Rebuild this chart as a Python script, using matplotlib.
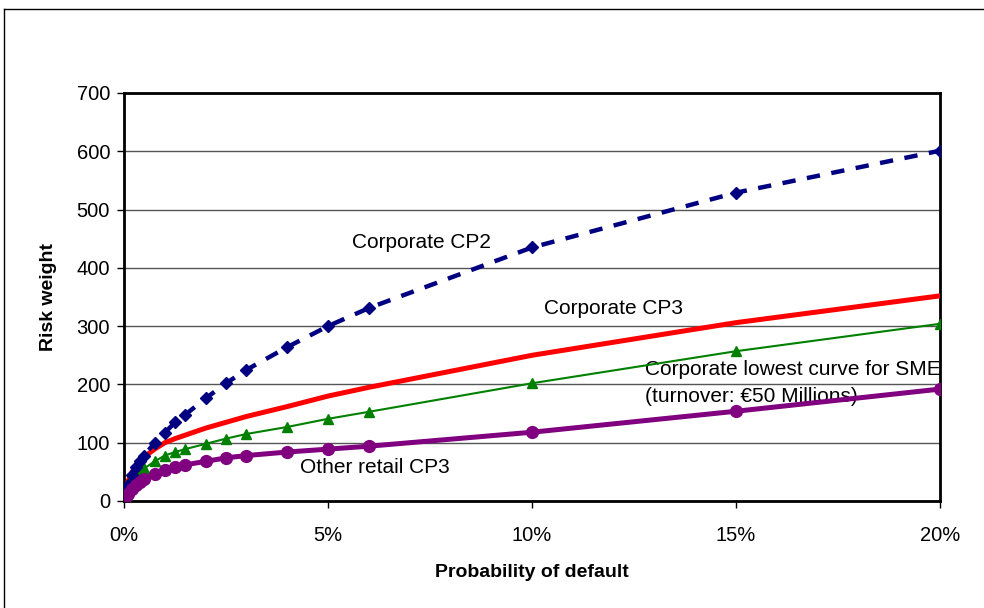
import matplotlib
matplotlib.use("Agg")
import matplotlib.pyplot as plt
from matplotlib.lines import Line2D

plt.rcParams['font.family'] = ['Liberation Sans', 'DejaVu Sans']

# Probability of default (fraction)
pd_grid = [0.0003, 0.0005, 0.001, 0.002, 0.003, 0.004, 0.005, 0.0075, 0.01, 0.0125,
           0.015, 0.02, 0.025, 0.03, 0.04, 0.05, 0.06, 0.10, 0.15, 0.20]

corporate_cp2 = [13, 18, 28, 45, 58, 68, 78, 100, 117, 135,
                 148, 176, 202, 225, 264, 300, 331, 435, 529, 601]
corporate_cp3 = [17, 23, 34, 50, 61, 69, 76, 89, 100, 107,
                 113, 125, 135, 145, 162, 180, 195, 250, 306, 352]
sme_lowest = [11, 15, 22, 34, 43, 50, 56, 68, 78, 84,
              89, 98, 107, 115, 127, 141, 153, 202, 257, 304]
other_retail_cp3 = [6, 8, 12, 20, 27, 32, 37, 46, 53, 58,
                    62, 68, 74, 78, 84, 89, 94, 118, 154, 192]

x_ticks = [0, 0.05, 0.10, 0.15, 0.20]
x_tick_labels = ['0%', '5%', '10%', '15%', '20%']
y_ticks = [0, 100, 200, 300, 400, 500, 600, 700]

fig = plt.figure(figsize=(9.84, 6.08), dpi=100)
ax = fig.add_axes([124/984, 1-501/608, (940-124)/984, (501-93)/608])

ax.plot(pd_grid, corporate_cp3, color='#FF0000', lw=3.6, zorder=3, solid_capstyle='round')
ax.plot(pd_grid, sme_lowest, color='#008000', lw=1.5, marker='^', ms=7.5, zorder=4)
ax.plot(pd_grid, corporate_cp2, color='#000080', lw=3.2, ls=(0, (3.0, 2.6)),
        marker='D', ms=6, zorder=5)
ax.plot(pd_grid, other_retail_cp3, color='#800080', lw=3.6, marker='o', ms=8.5, zorder=6)

ax.set_xlim(0, 0.20)
ax.set_ylim(0, 700)
ax.set_xticks(x_ticks)
ax.set_xticklabels(x_tick_labels)
ax.set_yticks(y_ticks)
ax.yaxis.grid(True, color='#555555', lw=1.0)
ax.set_axisbelow(True)
for s in ax.spines.values():
    s.set_linewidth(2)
    s.set_color('black')
ax.tick_params(axis='both', direction='out', length=5, width=1, labelsize=14.5, colors='black')
ax.tick_params(axis='x', pad=13)
ax.tick_params(axis='y', pad=5)

ax.set_xlabel('Probability of default', fontsize=14, fontweight='bold', labelpad=14)
ax.set_ylabel('Risk weight', fontsize=14, fontweight='bold', labelpad=14)

ax.text(0.0559, 444, 'Corporate CP2', fontsize=15, ha='left', va='center')
ax.text(0.1029, 331, 'Corporate CP3', fontsize=15, ha='left', va='center')
ax.text(0.1277, 226, 'Corporate lowest curve for SME', fontsize=15, ha='left', va='center')
ax.text(0.1277, 180, '(turnover: €50 Millions)', fontsize=15, ha='left', va='center')
ax.text(0.0431, 57, 'Other retail CP3', fontsize=15, ha='left', va='center')

# outer chart-area border (left and top edges visible)
fig.add_artist(Line2D([4/984, 4/984], [0, 1-9/608], transform=fig.transFigure, color='black', lw=1))
fig.add_artist(Line2D([4/984, 1], [1-9/608, 1-9/608], transform=fig.transFigure, color='black', lw=1))

fig.savefig('out.png', dpi=100)
